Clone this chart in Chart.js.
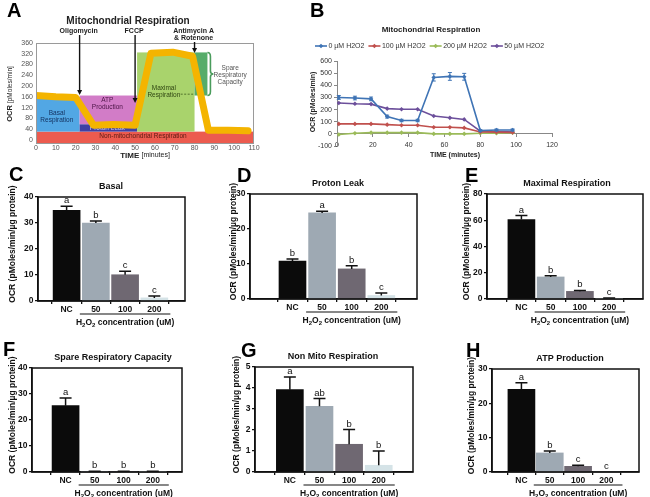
<!DOCTYPE html>
<html><head><meta charset="utf-8">
<script src="https://cdn.jsdelivr.net/npm/chart.js@4.4.1/dist/chart.umd.min.js"></script>
<style>
html,body{margin:0;padding:0;background:#fff;}
body{position:relative;width:650px;height:497px;overflow:hidden;}
canvas{position:absolute;}
.pl{position:absolute;font:bold 20px 'Liberation Sans',Arial,sans-serif;color:#000;line-height:normal;}
</style></head><body>
<canvas id="cA"></canvas>
<canvas id="cB"></canvas>
<canvas id="cC"></canvas>
<canvas id="cD"></canvas>
<canvas id="cE"></canvas>
<canvas id="cF"></canvas>
<canvas id="cG"></canvas>
<canvas id="cH"></canvas>
<div class="pl" style="left:7px;top:-1px">A</div>
<div class="pl" style="left:310px;top:-1px">B</div>
<div class="pl" style="left:9px;top:163px">C</div>
<div class="pl" style="left:237px;top:164px">D</div>
<div class="pl" style="left:465px;top:164px">E</div>
<div class="pl" style="left:3px;top:338px">F</div>
<div class="pl" style="left:241px;top:339px">G</div>
<div class="pl" style="left:466px;top:339px">H</div>
<script>
// ================= DATA =================
// Panel A: schematic Seahorse trace
const aTime = [0,10,20,29,39,50,58,69,79,87,97,107];
const aOCR  = [165,160,158,55,57,55,322,326,311,36,36,34];
const aXTicks = [0,10,20,30,40,50,60,70,80,90,100,110];
const aYTicks = [0,40,80,120,160,200,240,280,320,360];
const aRegionNames = ['Non-mitochondrial Respiration','Basal Respiration','ATP Production','Proton Leak','Maximal Respiration','Spare Respiratory Capacity'];
const aRegionX0 = [0,0,22,22,51,80];
const aRegionX1 = [110,22,51,51,80,86.5];
const aRegionY0 = [-15,31,58,31,31,165];
const aRegionY1 = [31,160,165,58,325,325];
const aInjNames = [['Oligomycin'],['FCCP'],['Antimycin A','& Rotenone']];
const aInjTime = [22,50,80];
const aInjArrowEnd = [167,137,323];

// Panel B: measured OCR traces
const bSeries = ['0 µM H2O2','100 µM H2O2','200 µM H2O2','50 µM H2O2'];
const bTime = [1,10,19,28,36,45,54,63,71,80,89,98];
const b0   = [300,295,288,142,110,110,465,473,470,27,32,32];
const b0Err= [16,15,15,12,10,10,30,32,28,8,8,8];
const b100 = [82,82,82,76,71,71,54,54,49,16,14,11];
const b200 = [-5,5,10,10,10,10,0,0,0,5,5,10];
const b50  = [254,248,245,208,203,203,147,132,119,22,19,16];

// Panels C-H
const barCategories = ['NC','50','100','200'];
const basalMean   = [34.9,30.0,10.1,1.2], basalSem   = [1.5,0.8,1.3,0.7], basalSig   = ['a','b','c','c'];
const protonMean  = [10.8,24.6,8.6,1.0],  protonSem  = [0.6,0.5,0.9,0.7], protonSig  = ['b','a','b','c'];
const maximalMean = [60.6,16.8,5.8,0.3],  maximalSem = [3.0,0.9,0.7,0.5], maximalSig = ['a','b','b','c'];
const spareMean   = [25.5,0.2,0.2,0.2],   spareSem   = [3.0,0.1,0.1,0.1], spareSig   = ['a','b','b','b'];
const nonMitoMean = [3.92,3.13,1.32,0.32],nonMitoSem = [0.6,0.37,0.7,0.68],nonMitoSig = ['a','ab','b','b'];
const atpMean     = [24.1,5.55,1.65,0],   atpSem     = [1.9,0.55,0.3,0],  atpSig     = ['a','b','c','c'];

// ================= STYLE / LAYOUT =================
const FN = "'Liberation Sans Narrow','Liberation Sans',Arial,sans-serif";
const FA = "'Liberation Sans',Arial,sans-serif";
Chart.defaults.animation = false;
Chart.defaults.plugins.legend.display = false;
Chart.defaults.plugins.tooltip.enabled = false;
Chart.defaults.font.family = FA;

function place(id, x, y, w, h){
  const c = document.getElementById(id);
  c.width = w; c.height = h; c.style.left = x+'px'; c.style.top = y+'px';
  return c;
}

// ---------- Panel A ----------
const regionColors = ['#ec5b4f','#52a7e4','#d27cc7','#3f40a3','#a9d36c','#56ac6a'];
const regionTextColors = ['#5a1a12','#13305e','#4b1446','#c9c9f2','#2f4512','#555'];
const regionLabelAt = [[54,15],[10.5,99],[36,146],[36,42],[64.5,192],[98,266]];
const regionSplit = [false,true,true,false,true,true];

const plugA = {
  id:'plugA',
  beforeDatasetsDraw(chart){
    const {ctx, chartArea:ca, scales:{x,y}} = chart;
    ctx.save();
    ctx.beginPath(); ctx.rect(ca.left, ca.top, ca.right-ca.left, ca.bottom-ca.top); ctx.clip();
    aRegionNames.forEach((n,i)=>{
      const x0 = x.getPixelForValue(aRegionX0[i]), x1 = x.getPixelForValue(aRegionX1[i]);
      const y0 = y.getPixelForValue(aRegionY0[i]), y1 = y.getPixelForValue(aRegionY1[i]);
      ctx.fillStyle = regionColors[i];
      ctx.fillRect(x0, y1, x1-x0, y0-y1);
    });
    ctx.font = "6.5px "+FA; ctx.textAlign='center'; ctx.textBaseline='middle';
    aRegionNames.forEach((n,i)=>{
      const lines = regionSplit[i] ? n.split(' ') : [n];
      const cx = x.getPixelForValue(regionLabelAt[i][0]), cy = y.getPixelForValue(regionLabelAt[i][1]);
      ctx.fillStyle = regionTextColors[i];
      lines.forEach((t,k)=> ctx.fillText(t, cx, cy + k*6.7));
    });
    ctx.strokeStyle='#3c5a1a'; ctx.lineWidth=0.8; ctx.setLineDash([2,1.5]);
    ctx.beginPath(); ctx.moveTo(x.getPixelForValue(73), y.getPixelForValue(170)); ctx.lineTo(x.getPixelForValue(80), y.getPixelForValue(170)); ctx.stroke();
    ctx.setLineDash([]);
    ctx.restore();
    const bx = x.getPixelForValue(aRegionX1[5]);
    const top = y.getPixelForValue(aRegionY1[5]), bot = y.getPixelForValue(aRegionY0[5]), mid=(top+bot)/2;
    ctx.save(); ctx.strokeStyle = '#4a9c5c'; ctx.lineWidth=1.6;
    ctx.beginPath(); ctx.moveTo(bx, top);
    ctx.quadraticCurveTo(bx+3, top, bx+3, top+4); ctx.lineTo(bx+3, mid-3);
    ctx.quadraticCurveTo(bx+3, mid, bx+6, mid); ctx.quadraticCurveTo(bx+3, mid, bx+3, mid+3);
    ctx.lineTo(bx+3, bot-4); ctx.quadraticCurveTo(bx+3, bot, bx, bot); ctx.stroke(); ctx.restore();
  },
  afterDraw(chart){
    const {ctx, chartArea:ca, scales:{x,y}} = chart;
    ctx.save();
    ctx.strokeStyle='#9a9a9a'; ctx.lineWidth=1;
    ctx.strokeRect(ca.left+0.5, ca.top+0.5, ca.right-ca.left-1, ca.bottom-ca.top-1);
    ctx.fillStyle='#222'; ctx.textAlign='center'; ctx.textBaseline='middle';
    ctx.font = "bold 10px "+FN; ctx.fillText('Mitochondrial Respiration', 128, 21.5);
    ctx.font = "bold 7px "+FA;
    aInjNames.forEach((lines,i)=>{
      const px = x.getPixelForValue(aInjTime[i]);
      lines.forEach((t,k)=> ctx.fillText(t, px-1, 31 + k*7));
      const ys = 35 + (lines.length-1)*7;
      const ye = y.getPixelForValue(aInjArrowEnd[i]);
      ctx.strokeStyle='#111'; ctx.lineWidth=1.4;
      ctx.beginPath(); ctx.moveTo(px, ys); ctx.lineTo(px, ye-4); ctx.stroke();
      ctx.fillStyle='#111'; ctx.beginPath(); ctx.moveTo(px-2.5, ye-5); ctx.lineTo(px+2.5, ye-5); ctx.lineTo(px, ye); ctx.closePath(); ctx.fill();
      ctx.fillStyle='#222';
    });
    ctx.save(); ctx.translate(10, 94); ctx.rotate(-Math.PI/2);
    ctx.textAlign='left';
    ctx.font="bold 7.5px "+FN; const w1 = ctx.measureText('OCR ').width;
    ctx.font="6.5px "+FA; const w2 = ctx.measureText('[pMoles/min]').width;
    let sx = -(w1+w2)/2;
    ctx.font="bold 7.5px "+FN; ctx.fillText('OCR ', sx, 0);
    ctx.font="6.5px "+FA; ctx.fillText('[pMoles/min]', sx+w1, 0);
    ctx.restore();
    ctx.textAlign='left';
    ctx.font="bold 8px "+FA; const t1 = ctx.measureText('TIME ').width;
    ctx.font="7px "+FA; const t2 = ctx.measureText('[minutes]').width;
    let tx = 145-(t1+t2)/2;
    ctx.font="bold 8px "+FA; ctx.fillText('TIME ', tx, 155.5);
    ctx.font="7px "+FA; ctx.fillText('[minutes]', tx+t1, 155.5);
    ctx.restore();
  }
};
(function(){
  const W=300,H=162, L=36,T=43,R=254,B=144, YW=30, XH=10;
  const cv = place('cA',0,0,W,H);
  new Chart(cv,{
    type:'line',
    data:{datasets:[
      {data:aTime.map((t,i)=>({x:t,y:aOCR[i]})), borderColor:'#f4b400', borderWidth:7, pointRadius:0, borderJoinStyle:'round', borderCapStyle:'round', tension:0},
      {data:aTime.map((t,i)=>({x:t,y:aOCR[i]})), borderColor:'#262626', borderWidth:1.6, pointRadius:2.2, pointBackgroundColor:'#222', pointBorderWidth:0, tension:0}
    ]},
    options:{responsive:false, animation:false,
      layout:{padding:{left:L-YW, top:T, right:W-R, bottom:H-B-XH}},
      scales:{
        x:{type:'linear', min:0, max:110, afterBuildTicks:s=>{s.ticks=aXTicks.map(v=>({value:v}));}, afterFit:s=>{s.height=XH;},
           ticks:{font:{size:7, family:FA}, color:'#555', padding:0, maxRotation:0, autoSkip:false},
           grid:{display:false, drawTicks:false}, border:{display:false}},
        y:{type:'linear', min:-15, max:360, afterBuildTicks:s=>{s.ticks=aYTicks.map(v=>({value:v}));}, afterFit:s=>{s.width=YW;},
           ticks:{font:{size:7, family:FA}, color:'#555', padding:3, autoSkip:false},
           grid:{display:false, drawTicks:false}, border:{display:false}}
      }},
    plugins:[plugA]
  });
})();

// ---------- Panel B ----------
const bColors = ['#3f74b5','#c0504d','#9bbb59','#6c4f9b'];
const bData = [b0,b100,b200,b50];
const plugB = {
  id:'plugB',
  afterDatasetsDraw(chart){
    const {ctx, scales:{x,y}} = chart;
    ctx.save(); ctx.strokeStyle=bColors[0]; ctx.lineWidth=1;
    bTime.forEach((t,i)=>{
      const px=x.getPixelForValue(t), yt=y.getPixelForValue(b0[i]+b0Err[i]), yb=y.getPixelForValue(b0[i]-b0Err[i]);
      ctx.beginPath(); ctx.moveTo(px,yt); ctx.lineTo(px,yb);
      ctx.moveTo(px-2,yt); ctx.lineTo(px+2,yt); ctx.moveTo(px-2,yb); ctx.lineTo(px+2,yb); ctx.stroke();
    });
    ctx.restore();
  },
  afterDraw(chart){
    const {ctx} = chart;
    ctx.save();
    ctx.fillStyle='#222'; ctx.textAlign='center'; ctx.textBaseline='middle';
    ctx.font="bold 8px "+FA; ctx.fillText('Mitochondrial Respiration', 131, 29.5);
    ctx.font="7px "+FA; ctx.textAlign='left';
    let lx = 15; const ly = 46;
    bSeries.forEach((s,i)=>{
      ctx.strokeStyle=bColors[i]; ctx.lineWidth=1.6;
      ctx.beginPath(); ctx.moveTo(lx,ly); ctx.lineTo(lx+12,ly); ctx.stroke();
      ctx.fillStyle=bColors[i]; ctx.beginPath();
      ctx.moveTo(lx+6,ly-2.3); ctx.lineTo(lx+8.3,ly); ctx.lineTo(lx+6,ly+2.3); ctx.lineTo(lx+3.7,ly); ctx.closePath(); ctx.fill();
      ctx.fillStyle='#333'; ctx.fillText(s, lx+13.5, ly+0.5);
      lx += 13.5 + ctx.measureText(s).width + 4;
    });
    ctx.fillStyle='#222'; ctx.textAlign='center';
    ctx.save(); ctx.translate(13, 102); ctx.rotate(-Math.PI/2);
    ctx.font="bold 7px "+FA; ctx.fillText('OCR (pMoles/min)', 0, 0); ctx.restore();
    ctx.font="bold 7px "+FA; ctx.fillText('TIME (minutes)', 155, 155);
    ctx.restore();
  }
};
(function(){
  const X0=300, W=350, H=162, L=37, T=61, R=252, B=146, YW=25;
  const cv = place('cB',X0,0,W,H);
  new Chart(cv,{
    type:'line',
    data:{datasets: bData.map((d,i)=>({
      data:bTime.map((t,k)=>({x:t,y:d[k]})), borderColor:bColors[i], backgroundColor:bColors[i],
      borderWidth:1.6, pointStyle:'rectRot', pointRadius:2.3, pointBorderWidth:0, tension:0, order: i===0?0:1
    }))},
    options:{responsive:false, animation:false,
      layout:{padding:{left:L-YW, top:T, right:W-R, bottom:H-B}},
      scales:{
        x:{type:'linear', position:{y:0}, min:0, max:120, ticks:{stepSize:20, font:{size:7,family:FA}, color:'#333', padding:4, maxRotation:0},
           grid:{display:true, drawOnChartArea:false, drawTicks:true, tickLength:3, color:'#888'}, border:{display:true,color:'#888',width:1}},
        y:{type:'linear', min:-100, max:600, afterFit:s=>{s.width=YW;}, ticks:{stepSize:100, font:{size:7,family:FA}, color:'#333', padding:2},
           grid:{display:true, drawOnChartArea:false, drawTicks:true, tickLength:3, color:'#888'}, border:{display:true,color:'#888',width:1}}
      }},
    plugins:[plugB]
  });
})();

// ---------- Panels C-H ----------
const barColors = ['#0b0b0b','#9ea9b3','#6f6872','#d5e3e7'];
const barPanels = [
  {id:'cC', title:'Basal',                      mean:basalMean,   sem:basalSem,   sig:basalSig,   yMax:40, yStep:10, box:[0,160,215,170],  area:[38,197,185,301],  xr:[-0.35,3.42], tx:111, ylx:13},
  {id:'cD', title:'Proton Leak',                mean:protonMean,  sem:protonSem,  sig:protonSig,  yMax:30, yStep:10, box:[215,160,215,170],area:[250,194,417,299], xr:[-0.73,3.50], tx:338, ylx:234},
  {id:'cE', title:'Maximal Respiration',        mean:maximalMean, sem:maximalSem, sig:maximalSig, yMax:80, yStep:20, box:[430,160,220,170],area:[487,194,643,299], xr:[-0.51,3.49], tx:567, ylx:467},
  {id:'cF', title:'Spare Respiratory Capacity', mean:spareMean,   sem:spareSem,   sig:spareSig,   yMax:40, yStep:10, box:[0,330,215,167],  area:[32,368,182,472],  xr:[-0.51,3.36], tx:113, ylx:13},
  {id:'cG', title:'Non Mito Respiration',       mean:nonMitoMean, sem:nonMitoSem, sig:nonMitoSig, yMax:5,  yStep:1,  box:[215,330,215,167],area:[255,367,413,472], xr:[-0.51,3.49], tx:333, ylx:237},
  {id:'cH', title:'ATP Production',             mean:atpMean,     sem:atpSem,     sig:atpSig,     yMax:30, yStep:10, box:[430,330,220,167],area:[492,369,639,472], xr:[-0.39,3.50], tx:570, ylx:472}
];

function drawH2O2(ctx, cx, y){
  const parts = [['H',0],['2',1],['O',0],['2',1],[' concentration (uM)',0]];
  const fBig = "bold 8.5px "+FN, fSmall = "bold 6px "+FN;
  let tot = 0;
  parts.forEach(p=>{ ctx.font = p[1]?fSmall:fBig; tot += ctx.measureText(p[0]).width; });
  let x = cx - tot/2;
  ctx.textAlign='left'; ctx.textBaseline='alphabetic';
  parts.forEach(p=>{ ctx.font = p[1]?fSmall:fBig; ctx.fillText(p[0], x, y + (p[1]?2:0)); x += ctx.measureText(p[0]).width; });
}

function makeBar(p){
  const [bx,by,W,H] = p.box;
  const L=p.area[0]-bx, T=p.area[1]-by, R=p.area[2]-bx, B=p.area[3]-by;
  const YW=20, XH=14;
  const cv = place(p.id,bx,by,W,H);
  const plug = {
    id:'bp'+p.id,
    afterDatasetsDraw(chart){
      const {ctx, chartArea:ca, scales:{x,y}} = chart;
      ctx.save();
      ctx.strokeStyle='#111'; ctx.lineWidth=1.5;
      ctx.strokeRect(ca.left, ca.top, ca.right-ca.left, ca.bottom-ca.top);
      p.mean.forEach((m,i)=>{
        const px = x.getPixelForValue(i);
        const yb = y.getPixelForValue(m), yt = y.getPixelForValue(m+p.sem[i]);
        if (p.sem[i] > 0){
          ctx.beginPath(); ctx.moveTo(px,yb); ctx.lineTo(px,yt); ctx.moveTo(px-6,yt); ctx.lineTo(px+6,yt); ctx.stroke();
        }
        ctx.fillStyle='#111'; ctx.font="9.5px "+FA; ctx.textAlign='center'; ctx.textBaseline='alphabetic';
        ctx.fillText(p.sig[i], px, yt-3);
      });
      ctx.restore();
    },
    afterDraw(chart){
      const {ctx, chartArea:ca, scales:{x}} = chart;
      ctx.save(); ctx.fillStyle='#111';
      ctx.font="bold 9px "+FN; ctx.textAlign='center'; ctx.textBaseline='middle';
      ctx.fillText(p.title, p.tx-bx, T-10);
      ctx.save(); ctx.translate(p.ylx-bx, (T+B)/2-5); ctx.rotate(-Math.PI/2);
      ctx.font="bold 8.5px "+FN; ctx.fillText('OCR (pMoles/min/µg protein)', 0, 0); ctx.restore();
      const u0 = x.getPixelForValue(1)-16, u1 = x.getPixelForValue(3)+16;
      ctx.strokeStyle='#111'; ctx.lineWidth=1.2;
      ctx.beginPath(); ctx.moveTo(u0,B+13); ctx.lineTo(u1,B+13); ctx.stroke();
      drawH2O2(ctx, (u0+u1)/2, B+24);
      ctx.restore();
    }
  };
  new Chart(cv,{
    type:'bar',
    data:{datasets:[{data:p.mean.map((v,i)=>({x:i,y:v})), backgroundColor:barColors, barThickness:27, borderWidth:0}]},
    options:{responsive:false, animation:false,
      layout:{padding:{left:L-YW, top:T, right:W-R, bottom:H-B-XH}},
      scales:{
        x:{type:'linear', min:p.xr[0], max:p.xr[1], afterBuildTicks:s=>{s.ticks=barCategories.map((c,i)=>({value:i}));}, afterFit:s=>{s.height=XH;},
           ticks:{callback:v=>barCategories[v], font:{family:FN,size:8.5,weight:'bold'}, color:'#111', padding:1, autoSkip:false, maxRotation:0},
           grid:{display:true, drawOnChartArea:false, drawTicks:true, tickLength:3, color:'#111', lineWidth:1.3},
           border:{display:true,color:'#111',width:1.5}},
        y:{type:'linear', min:0, max:p.yMax, afterFit:s=>{s.width=YW;},
           ticks:{stepSize:p.yStep, font:{family:FN,size:8.5,weight:'bold'}, color:'#111', padding:1.5},
           grid:{display:true, drawOnChartArea:false, drawTicks:true, tickLength:3, color:'#111', lineWidth:1.3},
           border:{display:true,color:'#111',width:1.5}}
      }},
    plugins:[plug]
  });
}
barPanels.forEach(makeBar);
</script>
</body></html>
